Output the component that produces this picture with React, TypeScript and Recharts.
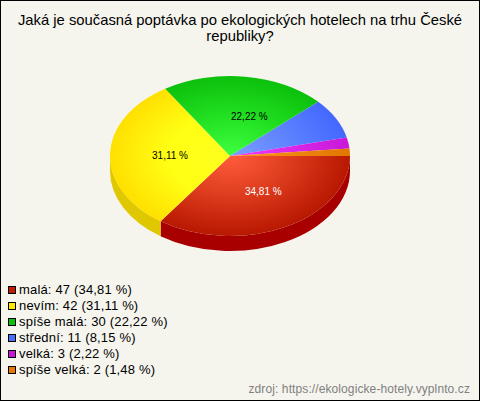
import { Legend, Pie, PieChart } from 'recharts'

const categories = ['malá', 'nevím', 'spíše malá', 'střední', 'velká', 'spíše velká']
const counts = [47, 42, 30, 11, 3, 2]
const percents = ['34,81', '31,11', '22,22', '8,15', '2,22', '1,48']

const innerColors = ['#ff5c3c', '#ffff20', '#40ff40', '#7c9eff', '#f038f8', '#ff9420']
const midColors = ['#de3c1e', '#ffff14', '#22e022', '#5f84ff', '#dc28e8', '#f08610']
const outerColors = ['#b81800', '#ffe000', '#0cc00c', '#4468ff', '#c818d8', '#e07800']
const sideColors = ['#a80000', '#e0c800', '#0a9a0a', '#3050c8', '#a010b0', '#b86000']
const swatchColors = ['#c01c00', '#ffe800', '#0cc00c', '#4870ff', '#c818d8', '#e87800']
const labelColors = ['#ffffff', '#000000', '#000000', '#000000', '#000000', '#000000']

const CX = 230
const CY = 156
const RX = 120
const RY = 80
const DEPTH = 15
const FONT = '"Liberation Sans", Arial, sans-serif'

const topData = categories.map((name, i) => ({ name, value: counts[i], fill: `url(#slice${i})` }))
const sideData = categories.map((name, i) => ({ name, value: counts[i], fill: sideColors[i] }))

const point = (deg: number, yOff = 0) => {
  const a = (deg * Math.PI) / 180
  return `${CX + RX * Math.cos(a)} ${CY + yOff - RY * Math.sin(a)}`
}

// recharts pies are round, so the sector is redrawn squashed into an ellipse
function TopSlice(props: any) {
  const { startAngle, endAngle, fill } = props
  const large = Math.abs(startAngle - endAngle) > 180 ? 1 : 0
  const d = `M ${CX} ${CY} L ${point(startAngle)} A ${RX} ${RY} 0 ${large} 1 ${point(endAngle)} Z`
  return <path d={d} fill={fill} />
}

// only the front half of the rim is visible
function SideSlice(props: any) {
  const from = Math.min(props.startAngle, 0)
  const to = Math.max(props.endAngle, -180)
  if (from <= to) return <g />
  const d = `M ${point(from)} A ${RX} ${RY} 0 0 1 ${point(to)} L ${point(to, DEPTH)} A ${RX} ${RY} 0 0 0 ${point(from, DEPTH)} Z`
  return <path d={d} fill={props.fill} />
}

function renderPercent(props: any) {
  const { index, midAngle, percent } = props
  if (percent < 0.1) return <g />
  const a = (midAngle * Math.PI) / 180
  const cos = Math.cos(a)
  return (
    <text
      x={cos > 0 ? CX + 14 + 42 * cos : CX + 60 * cos}
      y={CY - 0.5 * RY * Math.sin(a)}
      textAnchor="middle"
      dominantBaseline="central"
      fontFamily={FONT}
      fontSize={10}
      fill={labelColors[index]}
    >
      {percents[index]} %
    </text>
  )
}

function LegendList() {
  return (
    <div style={{ fontFamily: FONT, fontSize: 13, letterSpacing: 0.17, lineHeight: '16px', color: '#000' }}>
      {categories.map((name, i) => (
        <div key={name} style={{ display: 'flex', alignItems: 'center', whiteSpace: 'nowrap' }}>
          <span
            style={{
              width: 6,
              height: 6,
              marginRight: 3,
              background: swatchColors[i],
              border: '1px solid #000',
            }}
          />
          {name}: {counts[i]} ({percents[i]} %)
        </div>
      ))}
    </div>
  )
}

export default function App() {
  return (
    <div style={{ position: 'relative', width: 478, height: 399, border: '1px solid #000', background: '#f5f5ee' }}>
      <style>{'body{margin:0}'}</style>
      <PieChart width={480} height={401} margin={{ top: 0, right: 0, bottom: 0, left: 0 }} style={{ position: 'absolute', left: -1, top: -1 }}>
        <defs>
          {categories.map((name, i) => (
            <radialGradient
              key={name}
              id={`slice${i}`}
              gradientUnits="userSpaceOnUse"
              cx={0}
              cy={0}
              r={1}
              gradientTransform={`translate(${CX} ${CY}) scale(${RX} ${RY})`}
            >
              <stop offset="0%" stopColor={innerColors[i]} />
              <stop offset="50%" stopColor={midColors[i]} />
              <stop offset="100%" stopColor={outerColors[i]} />
            </radialGradient>
          ))}
        </defs>
        <text x={240} y={25} textAnchor="middle" fontFamily={FONT} fontSize={14.8} fill="#000">
          Jaká je současná poptávka po ekologických hotelech na trhu České
        </text>
        <text x={240} y={41} textAnchor="middle" fontFamily={FONT} fontSize={14.8} fill="#000">
          republiky?
        </text>
        <Pie
          data={sideData}
          dataKey="value"
          nameKey="name"
          cx={CX}
          cy={CY}
          outerRadius={RX}
          startAngle={0}
          endAngle={-360}
          shape={SideSlice}
          legendType="none"
          label={false}
          labelLine={false}
          isAnimationActive={false}
        />
        <Pie
          data={topData}
          dataKey="value"
          nameKey="name"
          cx={CX}
          cy={CY}
          outerRadius={RX}
          startAngle={0}
          endAngle={-360}
          shape={TopSlice}
          label={renderPercent}
          labelLine={false}
          isAnimationActive={false}
        />
        <Legend
          content={<LegendList />}
          wrapperStyle={{ position: 'absolute', left: 8, top: 282, width: 'auto', bottom: 'auto' }}
        />
        <text x={470} y={393} textAnchor="end" fontFamily={FONT} fontSize={12} letterSpacing={0.1} fill="#808080">
          zdroj: https://ekologicke-hotely.vyplnto.cz
        </text>
      </PieChart>
    </div>
  )
}
